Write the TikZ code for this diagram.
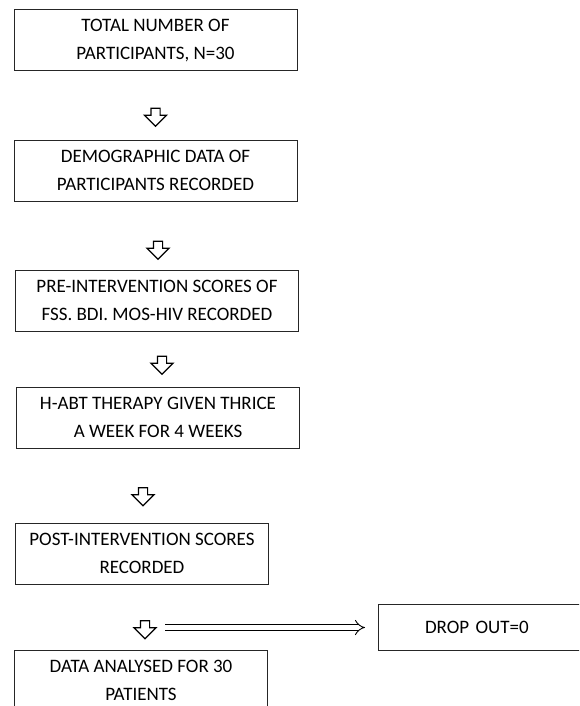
\documentclass[tikz,border=0pt]{standalone}
\usepackage{fontspec}
\setmainfont{Carlito}
\usetikzlibrary{shapes,arrows.meta,positioning}

\begin{document}
\begin{tikzpicture}[
        x=1pt, y=1pt,
        node distance=20pt,
        font=\fontsize{19}{28}\selectfont,
        block/.style={
            rectangle,
            draw=black!85,
            line width=1pt,
            align=center,
            minimum width=283pt,
            minimum height=61pt,
            inner sep=3pt
        },
        narrow/.style={minimum width=253pt},
        downarrow/.style={
            single arrow,
            draw=black,
            line width=1.2pt,
            fill=white,
            shape border rotate=270,
            minimum height=18pt,
            minimum width=21pt,
            single arrow head extend=6.5pt,
            inner sep=4pt,
            anchor=center
        },
        dblline/.style={
            draw=black,
            line width=0.9pt,
            double=white,
            double distance=4.5pt,
            -{Implies},
            shorten <=20pt,
            shorten >=13pt
        }
    ]

    \useasboundingbox (0,0) rectangle (579,-706);
    \clip (0,0) rectangle (579,-706);

    % Boxes
    \node [block] (total) at (155.5,-40.5) {TOTAL NUMBER OF\\PARTICIPANTS, N=30};
    \node [block, below=68pt of total] (demo) {DEMOGRAPHIC DATA OF\\PARTICIPANTS RECORDED};
    \node [block, below=68pt of demo, xshift=1.5pt] (pre) {PRE-INTERVENTION SCORES OF\\FSS. BDI. MOS-HIV RECORDED};
    \node [block, below=55pt of pre, xshift=1pt] (therapy) {H-ABT THERAPY GIVEN THRICE\\A WEEK FOR 4 WEEKS};
    \node [block, narrow, below=74pt of therapy, xshift=-16pt] (post) {POST-INTERVENTION SCORES\\RECORDED};
    \node [block, narrow, below=65pt of post, xshift=-1pt] (data) {DATA ANALYSED FOR 30\\PATIENTS};

    % Hollow arrows between boxes
    \node [below=43.5pt of total.south, downarrow] (a1) {};
    \node [below=46.5pt of demo.south, xshift=2.5pt, downarrow] (a2) {};
    \node [below=31.5pt of pre.south, xshift=5pt, downarrow] (a3) {};
    \node [below=46pt of therapy.south, xshift=-15pt, downarrow] (a4) {};
    \node [below=43pt of post.south, xshift=3pt, downarrow] (a5) {};

    % Drop out
    \node [block, right=233pt of a5.center, text width=190pt, align=left, inner xsep=30pt, minimum height=46pt] (drop) {DROP OUT=0};

    % Connections
    \path [dblline] (drop.west -| a5.center) -- (drop.west);

\end{tikzpicture}
\end{document}
